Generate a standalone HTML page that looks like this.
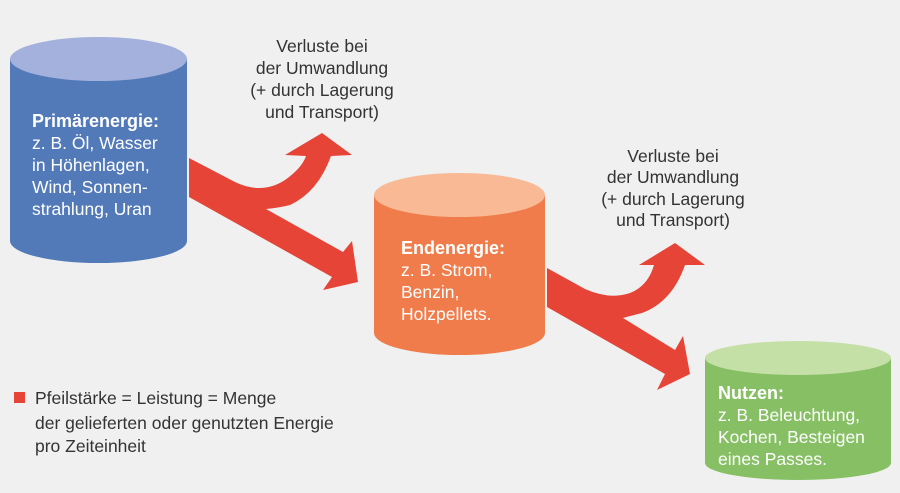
<!DOCTYPE html>
<html><head><meta charset="utf-8"><style>
html,body{margin:0;padding:0;background:#f0f0f0;}
svg{display:block;font-family:"Liberation Sans",sans-serif;}
</style></head><body>
<svg width="900" height="493" viewBox="0 0 900 493">
<rect width="900" height="493" fill="#f0f0f0"/>
<path d="M10,59 L10,241 A88.5,22 0 0 0 187,241 L187,59 Z" fill="#5279b8"/>
<ellipse cx="98.5" cy="59" rx="88.5" ry="22" fill="#a3b1dc"/>
<path d="M374,195 L374,333 A85.5,22 0 0 0 545,333 L545,195 Z" fill="#ef7c4a"/>
<ellipse cx="459.5" cy="195" rx="85.5" ry="22" fill="#f8b994"/>
<path d="M705,358 L705,463 A93,17 0 0 0 891,463 L891,358 Z" fill="#86bf64"/>
<ellipse cx="798" cy="358" rx="93" ry="17" fill="#c5e0a6"/>
<g fill="#e54436">
<path d="M189,158 L235,182 Q262,195 285,180 Q302,168 306,156 L285,155 L322,133 L352,155 L331,156 Q318,192 290,205 Q278,208 266,209 L343,252 L352,241 L358,282 L323,290 L332,277 L189,197 Z"/>
<path d="M547,268 L585,289 Q610,300 630,293 Q648,286 654,265 L639,265 L675,243 L705,265 L685,265 Q672,302 642,313 Q630,316 623,318 L675,350 L683,336 L690,374 L657,390 L665,374 L547,307 Z"/>
</g>
<g fill="#ffffff" font-size="17.5">
<text x="32" y="127" font-weight="bold" font-size="18">Primärenergie:</text>
<text x="32" y="149">z. B. Öl, Wasser</text>
<text x="32" y="171">in Höhenlagen,</text>
<text x="32" y="193">Wind, Sonnen-</text>
<text x="32" y="215">strahlung, Uran</text>
<text x="401" y="254" font-weight="bold" font-size="18">Endenergie:</text>
<text x="401" y="276">z. B. Strom,</text>
<text x="401" y="298">Benzin,</text>
<text x="401" y="320">Holzpellets.</text>
<text x="718" y="399" font-weight="bold" font-size="18">Nutzen:</text>
<text x="718" y="421">z. B. Beleuchtung,</text>
<text x="718" y="443">Kochen, Besteigen</text>
<text x="718" y="465">eines Passes.</text>
</g>
<g fill="#333" font-size="17.5" text-anchor="middle">
<text x="322" y="52">Verluste bei</text>
<text x="322" y="74">der Umwandlung</text>
<text x="322" y="96">(+ durch Lagerung</text>
<text x="322" y="118">und Transport)</text>
<text x="673" y="162">Verluste bei</text>
<text x="673" y="183">der Umwandlung</text>
<text x="673" y="205">(+ durch Lagerung</text>
<text x="673" y="226">und Transport)</text>
</g>
<rect x="14" y="392" width="11" height="11" fill="#e54436"/>
<g fill="#333" font-size="17.5">
<text x="35" y="404">Pfeilstärke = Leistung = Menge</text>
<text x="35" y="429">der gelieferten oder genutzten Energie</text>
<text x="35" y="452">pro Zeiteinheit</text>
</g>
</svg>
</body></html>
